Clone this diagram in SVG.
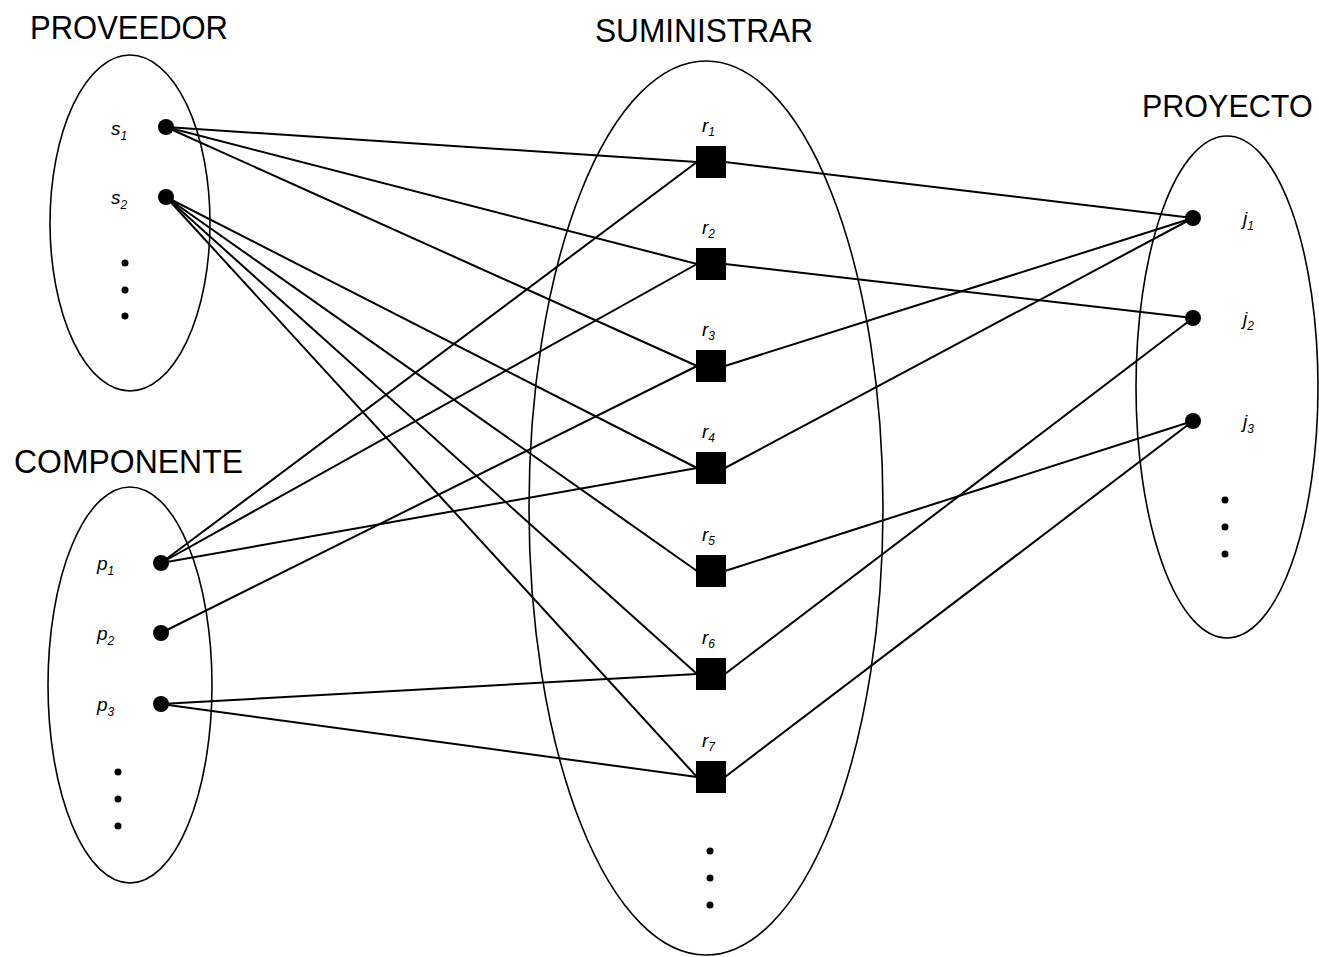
<svg xmlns="http://www.w3.org/2000/svg" width="1319" height="957" viewBox="0 0 1319 957">
<style>
.set{fill:none;stroke:#000;stroke-width:1.6}
.ttl{font-family:"Liberation Sans",Arial,sans-serif;font-size:33px;fill:#000}
.lbl{font-family:"Liberation Sans",Arial,sans-serif;font-style:italic;font-size:19px;fill:#000}
.sub{font-size:12px}
.dot{fill:#000}
.sq{fill:#000}
.edge{stroke:#000;stroke-width:2;fill:none}
</style>
<rect width="1319" height="957" fill="#fff"/>
<g id="connectors">
<line class="edge" x1="166" y1="127" x2="697" y2="162"/>
<line class="edge" x1="166" y1="127" x2="697" y2="264"/>
<line class="edge" x1="166" y1="127" x2="697" y2="366"/>
<line class="edge" x1="166" y1="197" x2="697" y2="468"/>
<line class="edge" x1="166" y1="197" x2="697" y2="571"/>
<line class="edge" x1="166" y1="197" x2="697" y2="674"/>
<line class="edge" x1="166" y1="197" x2="697" y2="777"/>
<line class="edge" x1="161" y1="563" x2="697" y2="162"/>
<line class="edge" x1="161" y1="563" x2="697" y2="264"/>
<line class="edge" x1="161" y1="563" x2="697" y2="468"/>
<line class="edge" x1="161" y1="633" x2="697" y2="366"/>
<line class="edge" x1="161" y1="704" x2="697" y2="674"/>
<line class="edge" x1="161" y1="704" x2="697" y2="777"/>
<line class="edge" x1="725" y1="162" x2="1193" y2="218"/>
<line class="edge" x1="725" y1="264" x2="1193" y2="318"/>
<line class="edge" x1="725" y1="366" x2="1193" y2="218"/>
<line class="edge" x1="725" y1="468" x2="1193" y2="218"/>
<line class="edge" x1="725" y1="571" x2="1193" y2="421"/>
<line class="edge" x1="725" y1="674" x2="1193" y2="318"/>
<line class="edge" x1="725" y1="777" x2="1193" y2="421"/>
</g>
<g id="proveedor">
<ellipse class="set" cx="130" cy="223" rx="80" ry="168"/>
<text class="ttl" x="30" y="39" textLength="198" lengthAdjust="spacingAndGlyphs">PROVEEDOR</text>
</g>
<g id="s1"><circle class="dot" cx="166" cy="127" r="8"/><text class="lbl" x="111" y="135">s<tspan class="sub" dy="5">1</tspan></text></g>
<g id="s2"><circle class="dot" cx="166" cy="197" r="8"/><text class="lbl" x="111" y="204">s<tspan class="sub" dy="5">2</tspan></text></g>
<g id="proveedor-more"><circle class="dot" cx="125" cy="263" r="3.5"/><circle class="dot" cx="125" cy="290" r="3.5"/><circle class="dot" cx="125" cy="316" r="3.5"/></g>
<g id="componente">
<ellipse class="set" cx="130" cy="685" rx="82" ry="198"/>
<text class="ttl" x="14" y="473" textLength="229" lengthAdjust="spacingAndGlyphs">COMPONENTE</text>
</g>
<g id="p1"><circle class="dot" cx="161" cy="563" r="8"/><text class="lbl" x="97" y="570">p<tspan class="sub" dy="5">1</tspan></text></g>
<g id="p2"><circle class="dot" cx="161" cy="633" r="8"/><text class="lbl" x="97" y="640">p<tspan class="sub" dy="5">2</tspan></text></g>
<g id="p3"><circle class="dot" cx="161" cy="704" r="8"/><text class="lbl" x="97" y="711">p<tspan class="sub" dy="5">3</tspan></text></g>
<g id="componente-more"><circle class="dot" cx="118" cy="772" r="3.5"/><circle class="dot" cx="118" cy="799" r="3.5"/><circle class="dot" cx="118" cy="826" r="3.5"/></g>
<g id="suministrar">
<ellipse class="set" cx="706" cy="508" rx="177" ry="447"/>
<text class="ttl" x="595" y="42" textLength="218" lengthAdjust="spacingAndGlyphs">SUMINISTRAR</text>
</g>
<g id="r1"><rect class="sq" x="696" y="146" width="30" height="32"/><text class="lbl" x="702" y="132">r<tspan class="sub" dy="4">1</tspan></text></g>
<g id="r2"><rect class="sq" x="696" y="248" width="30" height="32"/><text class="lbl" x="702" y="234">r<tspan class="sub" dy="4">2</tspan></text></g>
<g id="r3"><rect class="sq" x="696" y="350" width="30" height="32"/><text class="lbl" x="702" y="336">r<tspan class="sub" dy="4">3</tspan></text></g>
<g id="r4"><rect class="sq" x="696" y="452" width="30" height="32"/><text class="lbl" x="702" y="438">r<tspan class="sub" dy="4">4</tspan></text></g>
<g id="r5"><rect class="sq" x="696" y="555" width="30" height="32"/><text class="lbl" x="702" y="541">r<tspan class="sub" dy="4">5</tspan></text></g>
<g id="r6"><rect class="sq" x="696" y="658" width="30" height="32"/><text class="lbl" x="702" y="644">r<tspan class="sub" dy="4">6</tspan></text></g>
<g id="r7"><rect class="sq" x="696" y="761" width="30" height="32"/><text class="lbl" x="702" y="747">r<tspan class="sub" dy="4">7</tspan></text></g>
<g id="suministrar-more"><circle class="dot" cx="710" cy="851" r="3.5"/><circle class="dot" cx="710" cy="878" r="3.5"/><circle class="dot" cx="710" cy="905" r="3.5"/></g>
<g id="proyecto">
<ellipse class="set" cx="1227" cy="387" rx="91" ry="251"/>
<text class="ttl" x="1142" y="117" style="font-size:30.5px">PROYECTO</text>
</g>
<g id="j1"><circle class="dot" cx="1193" cy="218" r="8"/><text class="lbl" x="1243" y="225">j<tspan class="sub" dy="5">1</tspan></text></g>
<g id="j2"><circle class="dot" cx="1193" cy="318" r="8"/><text class="lbl" x="1243" y="325">j<tspan class="sub" dy="5">2</tspan></text></g>
<g id="j3"><circle class="dot" cx="1193" cy="421" r="8"/><text class="lbl" x="1243" y="428">j<tspan class="sub" dy="5">3</tspan></text></g>
<g id="proyecto-more"><circle class="dot" cx="1225" cy="500" r="3.5"/><circle class="dot" cx="1225" cy="527" r="3.5"/><circle class="dot" cx="1225" cy="554" r="3.5"/></g>
</svg>
